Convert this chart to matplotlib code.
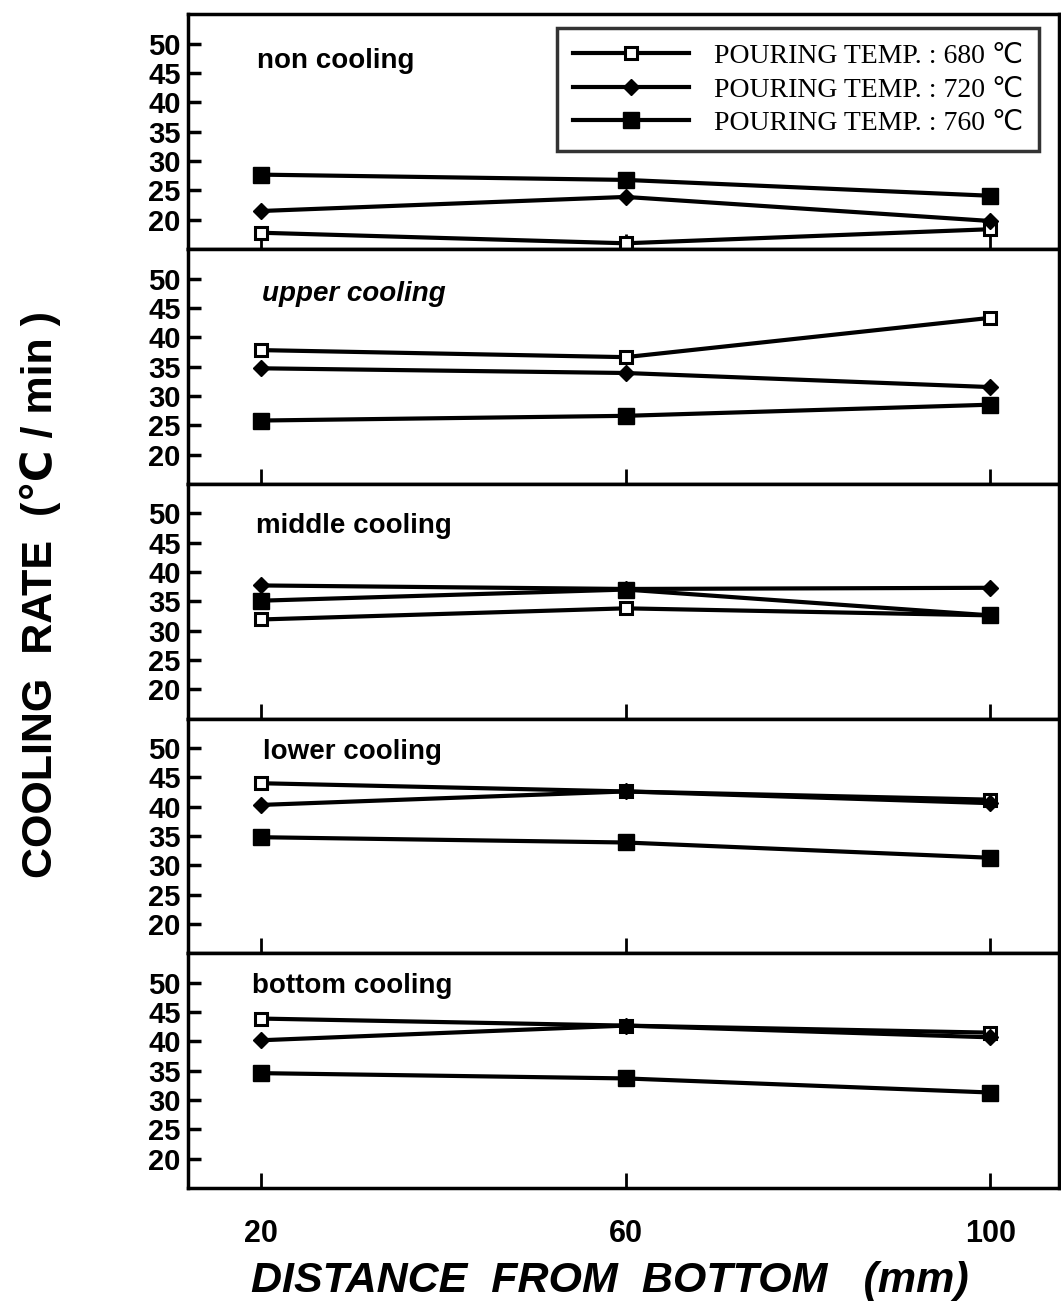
import matplotlib
matplotlib.use('Agg')
import matplotlib.pyplot as plt

distance = [20, 60, 100]
panels = ['non cooling', 'upper cooling', 'middle cooling', 'lower cooling', 'bottom cooling']
labels = ['POURING TEMP. : 680 \u2103', 'POURING TEMP. : 720 \u2103', 'POURING TEMP. : 760 \u2103']

# cooling rate per panel: [680, 720, 760]
rate_non = [[17.8, 16.0, 18.4], [21.5, 23.9, 19.8], [27.7, 26.8, 24.1]]
rate_upper = [[37.8, 36.6, 43.3], [34.7, 33.9, 31.5], [25.8, 26.6, 28.5]]
rate_middle = [[31.9, 33.8, 32.6], [37.7, 37.1, 37.3], [35.1, 37.0, 32.6]]
rate_lower = [[44.0, 42.6, 41.2], [40.3, 42.6, 40.6], [34.8, 33.9, 31.3]]
rate_bottom = [[43.9, 42.7, 41.5], [40.2, 42.7, 40.7], [34.6, 33.7, 31.3]]
rates = [rate_non, rate_upper, rate_middle, rate_lower, rate_bottom]

yticks = [20, 25, 30, 35, 40, 45, 50]
xticks = [20, 60, 100]

sans = ['Liberation Sans', 'DejaVu Sans']
serif = ['Liberation Serif', 'DejaVu Sans']

fig, axes = plt.subplots(5, 1, figsize=(10.61, 13.10), dpi=100, sharex=True)
fig.subplots_adjust(left=0.177, right=0.998, top=0.989, bottom=0.093, hspace=0)

styles = [
    dict(marker='s', markerfacecolor='white', markeredgecolor='black', markersize=9, markeredgewidth=2.2),
    dict(marker='D', markerfacecolor='black', markeredgecolor='black', markersize=8),
    dict(marker='s', markerfacecolor='black', markeredgecolor='black', markersize=11),
]

# where the panel names sit (axes fraction)
title_pos = [(0.08, 0.80), (0.085, 0.81), (0.078, 0.82), (0.086, 0.86), (0.074, 0.86)]

for i, ax in enumerate(axes):
    for j in range(3):
        ax.plot(distance, rates[i][j], color='black', lw=3, label=labels[j], **styles[j])
    ax.set_ylim(15, 55)
    ax.set_xlim(12, 107.5)
    ax.set_yticks(yticks)
    ax.set_xticks(xticks)
    ax.tick_params(axis='y', direction='in', length=9, width=2.5, left=True, right=False, pad=5)
    ax.tick_params(axis='x', direction='in', length=11, width=2, top=False)
    for lab in ax.get_yticklabels():
        lab.set_fontfamily(sans)
        lab.set_fontweight('bold')
        lab.set_fontsize(21)
    for s in ax.spines.values():
        s.set_linewidth(2.5)
    style = 'italic' if i == 1 else 'normal'
    ax.text(title_pos[i][0], title_pos[i][1], panels[i], transform=ax.transAxes, fontsize=20,
            fontweight='bold', fontstyle=style, family=sans, va='center', ha='left')

ax = axes[-1]
ax.tick_params(axis='x', pad=22)
for lab in ax.get_xticklabels():
    lab.set_fontfamily(sans)
    lab.set_fontweight('bold')
    lab.set_fontsize(22)
ax.set_xlabel('DISTANCE  FROM  BOTTOM   (mm)', fontsize=31, fontweight='bold',
              fontstyle='italic', family=sans, labelpad=10)
ax.xaxis.set_label_coords(0.485, -0.31)

fig.text(0.038, 0.546, 'COOLING  RATE  (\u2103 / min )', rotation=90, fontsize=31,
         fontweight='bold', family=sans, va='center', ha='center')

leg = axes[0].legend(loc='upper right', bbox_to_anchor=(0.977, 0.94), borderaxespad=0,
                     prop={'family': serif, 'size': 20}, handlelength=4.2, handletextpad=0.9,
                     frameon=True, fancybox=False, edgecolor='black', labelspacing=0.28,
                     borderpad=0.55)
leg.get_frame().set_linewidth(2.5)

fig.savefig('out.png', dpi=100)
